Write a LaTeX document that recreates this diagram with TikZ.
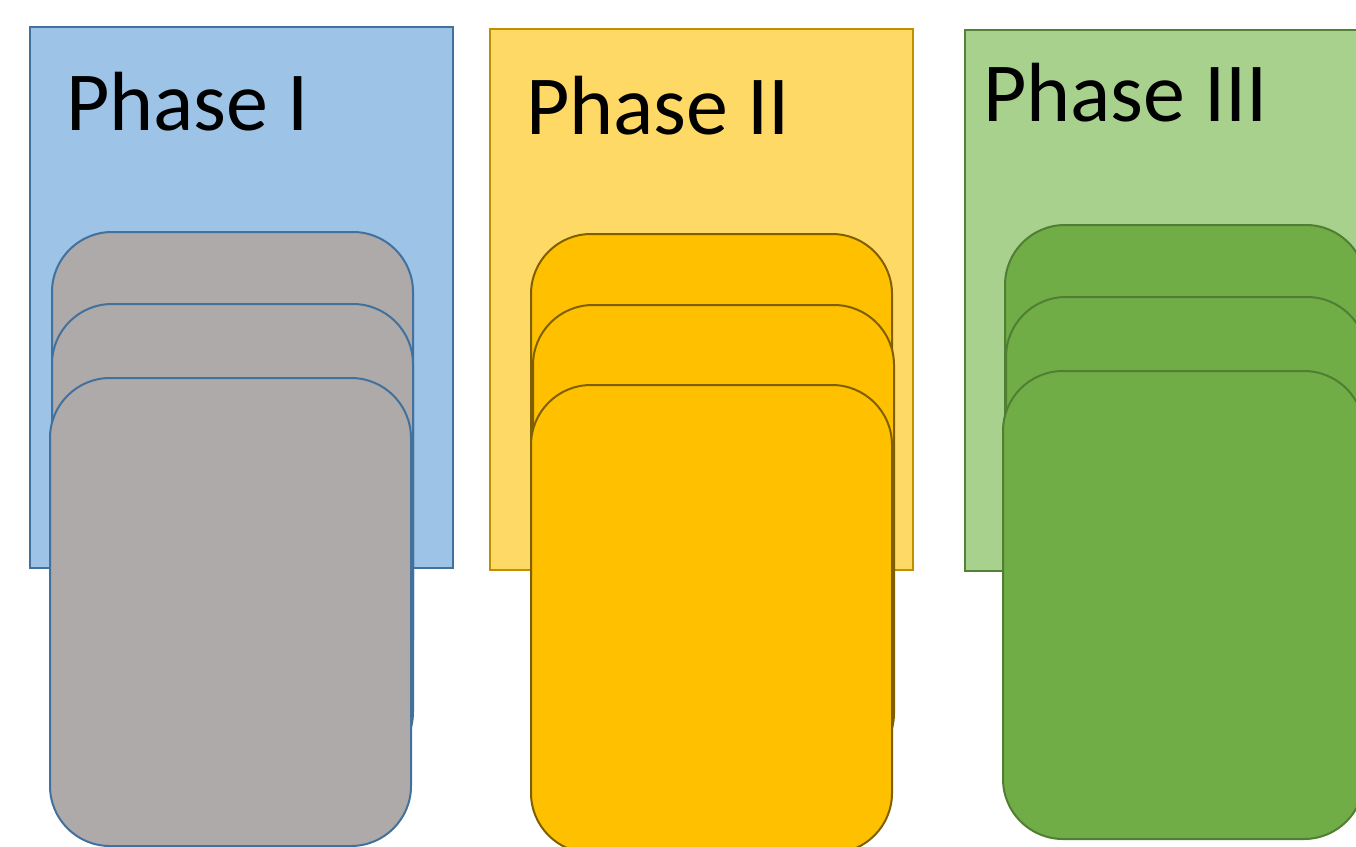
\documentclass[tikz,border=0pt]{standalone}
\usepackage{fontspec}
\setmainfont{Carlito}
\definecolor{blueFill}{HTML}{9DC3E6}
\definecolor{blueLine}{HTML}{41719C}
\definecolor{greyCard}{HTML}{AEAAAA}
\definecolor{goldFill}{HTML}{FFD966}
\definecolor{goldLine}{HTML}{BF9000}
\definecolor{goldCard}{HTML}{FFC000}
\definecolor{goldCardLine}{HTML}{7F6000}
\definecolor{greenFill}{HTML}{A9D18E}
\definecolor{greenLine}{HTML}{548235}
\definecolor{greenCard}{HTML}{70AD47}
\definecolor{greenCardLine}{HTML}{507E32}
\tikzset{
  panel/.style={rectangle, draw, line width=2pt, anchor=north west,
    minimum width=423pt, minimum height=541pt, inner sep=0pt, outer sep=0pt},
  card/.style={rectangle, draw, line width=2pt, rounded corners=60pt,
    anchor=north west, minimum width=361pt, minimum height=468pt,
    inner sep=0pt, outer sep=0pt},
  phasetitle/.style={anchor=base west, inner sep=0pt, outer sep=0pt,
    font=\fontsize{84}{90}\selectfont, text=black}
}
\begin{document}
\begin{tikzpicture}[x=1pt,y=-1pt]
\clip (0,0) rectangle (1356,846);
\fill[white] (0,0) rectangle (1356,846);

% Phase I column
\node[panel, fill=blueFill, draw=blueLine] (p1) at (30,27) {};
\node[card, fill=greyCard, draw=blueLine] (p1a) at (52,232) {};
\node[card, fill=greyCard, draw=blueLine] (p1b) at (52,304) {};
\node[card, fill=greyCard, draw=blueLine] (p1c) at (50,378) {};
\node[phasetitle] (t1) at (66,130) {Phase I};

% Phase II column
\node[panel, fill=goldFill, draw=goldLine] (p2) at (490,29) {};
\node[card, fill=goldCard, draw=goldCardLine] (p2a) at (531,234) {};
\node[card, fill=goldCard, draw=goldCardLine] (p2b) at (533,305) {};
\node[card, fill=goldCard, draw=goldCardLine] (p2c) at (531,385) {};
\node[phasetitle] (t2) at (526,134) {Phase II};

% Phase III column
\node[panel, fill=greenFill, draw=greenLine] (p3) at (965,30) {};
\node[card, fill=greenCard, draw=greenCardLine] (p3a) at (1005,225) {};
\node[card, fill=greenCard, draw=greenCardLine] (p3b) at (1006,297) {};
\node[card, fill=greenCard, draw=greenCardLine] (p3c) at (1003,371) {};
\node[phasetitle] (t3) at (983,121) {Phase III};
\end{tikzpicture}
\end{document}
